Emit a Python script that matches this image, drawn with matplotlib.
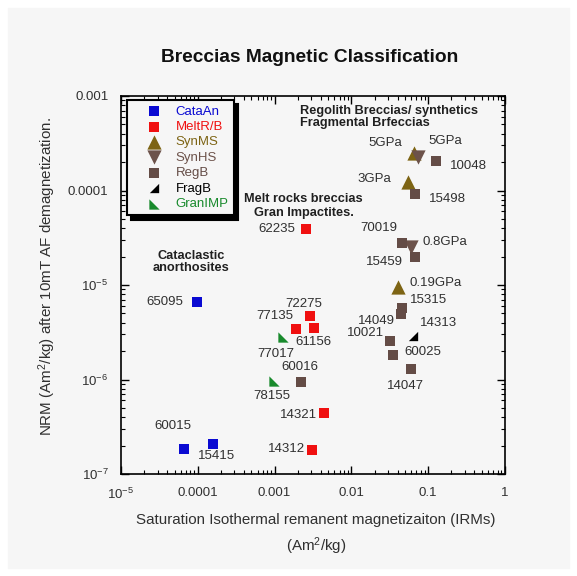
import matplotlib
matplotlib.use("Agg")
import matplotlib.pyplot as plt
from matplotlib.patches import Rectangle

plt.rcParams['font.family'] = ['Liberation Sans', 'DejaVu Sans']
plt.rcParams['mathtext.default'] = 'regular'

# data: IRMs (x) vs NRM after 10mT AF (y)
cata_x = [9.7e-5, 6.7e-5, 1.59e-4]
cata_y = [6.6e-6, 1.82e-7, 2.06e-7]
cata_lab = ['65095', '60015', '15415']

melt_x = [2.6e-3, 2.9e-3, 1.88e-3, 3.3e-3, 4.4e-3, 3.1e-3]
melt_y = [3.9e-5, 4.7e-6, 3.4e-6, 3.5e-6, 4.4e-7, 1.8e-7]
melt_lab = ['62235', '72275', '77135', '61156', '14321', '14312']

synms_x = [0.066, 0.055, 0.040]
synms_y = [2.47e-4, 1.24e-4, 9.6e-6]
synms_lab = ['5GPa', '3GPa', '0.19GPa']

synhs_x = [0.074, 0.060]
synhs_y = [2.28e-4, 2.54e-5]
synhs_lab = ['5GPa', '0.8GPa']

regb_x = [0.128, 0.067, 0.046, 0.067, 0.046, 0.044, 0.032, 0.035, 0.059, 0.0022]
regb_y = [2.05e-4, 9.1e-5, 2.76e-5, 1.96e-5, 5.7e-6, 4.9e-6, 2.54e-6, 1.83e-6, 1.3e-6, 9.3e-7]
regb_lab = ['10048', '15498', '70019', '15459', '15315', '14049', '10021', '60025', '14047', '60016']

fragb_x = [0.063]
fragb_y = [2.9e-6]
fragb_lab = ['14313']

gran_x = [1.27e-3, 9.8e-4]
gran_y = [2.84e-6, 9.7e-7]
gran_lab = ['77017', '78155']

x_ticks = [1e-5, 1e-4, 1e-3, 1e-2, 1e-1, 1]
x_ticklabels = ['$10^{-5}$', '0.0001', '0.001', '0.01', '0.1', '1']
y_ticks = [1e-7, 1e-6, 1e-5, 1e-4, 1e-3]
y_ticklabels = ['$10^{-7}$', '$10^{-6}$', '$10^{-5}$', '0.0001', '0.001']

# label placement (dx, dy in pixels, alignment) for each point
cata_off = [(-14, 0, 'right'), (-12, 23, 'center'), (3, -12, 'center')]
melt_off = [(-11, 0, 'right'), (-6, 12, 'center'), (-2, 13, 'right'),
            (-1, -14, 'center'), (-7, -2, 'right'), (-7, 1, 'right')]
synms_off = [(-12, 10, 'right'), (-17, 3, 'right'), (12, 4, 'left')]
synhs_off = [(10, 16, 'left'), (11, 5, 'left')]
regb_off = [(14, -5, 'left'), (14, -5, 'left'), (-5, 15, 'right'), (-12, -5, 'right'),
            (8, 8, 'left'), (-6, -7, 'right'), (-6, 8, 'right'), (11, 3, 'left'),
            (-5, -17, 'center'), (-1, 15, 'center')]
fragb_off = [(7, 13, 'left')]
gran_off = [(-7, -17, 'center'), (-2, -15, 'center')]

frag_marker = [(1, -1), (1, 1), (-1, -1)]
gran_marker = [(-1, -1), (-1, 1), (1, -1)]

fig = plt.figure(figsize=(5.77, 5.76), dpi=100, facecolor='white')
fig.patches.append(Rectangle((8 / 577, 8 / 576), 561 / 577, 560 / 576,
                             transform=fig.transFigure, color='#f6f6f6', zorder=-10))
ax = fig.add_axes([121 / 577, 1 - 474 / 576, 384 / 577, 378 / 576])
ax.set_facecolor('none')

groups = [
    (cata_x, cata_y, cata_lab, cata_off, 's', 58, '#0a0ad2', 'CataAn'),
    (melt_x, melt_y, melt_lab, melt_off, 's', 58, '#f01010', 'MeltR/B'),
    (synms_x, synms_y, synms_lab, synms_off, '^', 105, '#7d6414', 'SynMS'),
    (synhs_x, synhs_y, synhs_lab, synhs_off, 'v', 105, '#6c524a', 'SynHS'),
    (regb_x, regb_y, regb_lab, regb_off, 's', 58, '#644c46', 'RegB'),
    (fragb_x, fragb_y, fragb_lab, fragb_off, frag_marker, 45, 'black', 'FragB'),
    (gran_x, gran_y, gran_lab, gran_off, gran_marker, 55, '#188a2c', 'GranIMP'),
]

for gx, gy, glab, goff, mk, sz, col, name in groups:
    ax.scatter(gx, gy, marker=mk, s=sz, color=col, linewidths=0, label=name, zorder=3)
    for x, y, t, (dx, dy, ha) in zip(gx, gy, glab, goff):
        ax.annotate(t, (x, y), xytext=(dx, dy), textcoords='offset pixels',
                    ha=ha, va='center', fontsize=9.5, color='#303030')

ax.set_xscale('log')
ax.set_yscale('log')
ax.set_xlim(1e-5, 1)
ax.set_ylim(1e-7, 1e-3)
ax.set_xticks(x_ticks)
ax.set_xticklabels(x_ticklabels)
ax.set_yticks(y_ticks)
ax.set_yticklabels(y_ticklabels)
ax.tick_params(which='both', direction='in', top=True, right=True, labelsize=9.5,
               colors='black', labelcolor='#303030')
ax.tick_params(which='major', length=6, width=1, pad=9)
ax.tick_params(which='minor', length=3, width=0.8)
for s in ax.spines.values():
    s.set_linewidth(1.2)

# group captions
bold = dict(fontsize=9.2, fontweight='bold', color='#202020', va='center')
ax.text(0.466, 1 - (110.7 - 96) / 378, 'Regolith Breccias/ synthetics', transform=ax.transAxes, ha='left', **bold)
ax.text(0.466, 1 - (123.3 - 96) / 378, 'Fragmental Brfeccias', transform=ax.transAxes, ha='left', **bold)
ax.text((303.7 - 121) / 384, 1 - (198.7 - 96) / 378, 'Melt rocks breccias', transform=ax.transAxes, ha='center', **bold)
ax.text((303.7 - 121) / 384, 1 - (212.7 - 96) / 378, 'Gran Impactites.', transform=ax.transAxes, ha='center', **bold)
ax.text((190.7 - 121) / 384, 1 - (256 - 96) / 378, 'Cataclastic', transform=ax.transAxes, ha='center', **bold)
ax.text((190.7 - 121) / 384, 1 - (268.3 - 96) / 378, 'anorthosites', transform=ax.transAxes, ha='center', **bold)

leg = ax.legend(loc='upper left', bbox_to_anchor=(0.0148, 0.989), borderaxespad=0,
                fontsize=9.5, handlelength=3.3, handletextpad=0.0, labelspacing=0.24,
                borderpad=0.4, fancybox=False, edgecolor='black', framealpha=1,
                facecolor='#f6f6f6', shadow={'color': 'black', 'alpha': 1, 'ox': 3, 'oy': -3})
leg.get_frame().set_linewidth(1.5)
for txt, (_, _, _, _, _, _, col, _) in zip(leg.get_texts(), groups):
    txt.set_color(col)

fig.text(310 / 577, 1 - 57 / 576, 'Breccias Magnetic Classification', ha='center', va='center',
         fontsize=13.8, fontweight='bold', color='#111111')
fig.text(316 / 577, 1 - 520 / 576, 'Saturation Isothermal remanent magnetizaiton (IRMs)',
         ha='center', va='center', fontsize=10.9, color='#303030')
fig.text(316 / 577, 1 - 546 / 576, '(Am$^2$/kg)', ha='center', va='center', fontsize=10.9, color='#303030')
fig.text(47 / 577, 1 - 277 / 576, 'NRM (Am$^2$/kg) after 10mT AF demagnetization.', rotation=90,
         ha='center', va='center', fontsize=10.9, color='#303030')

fig.savefig('out.png', dpi=100, facecolor='white')
